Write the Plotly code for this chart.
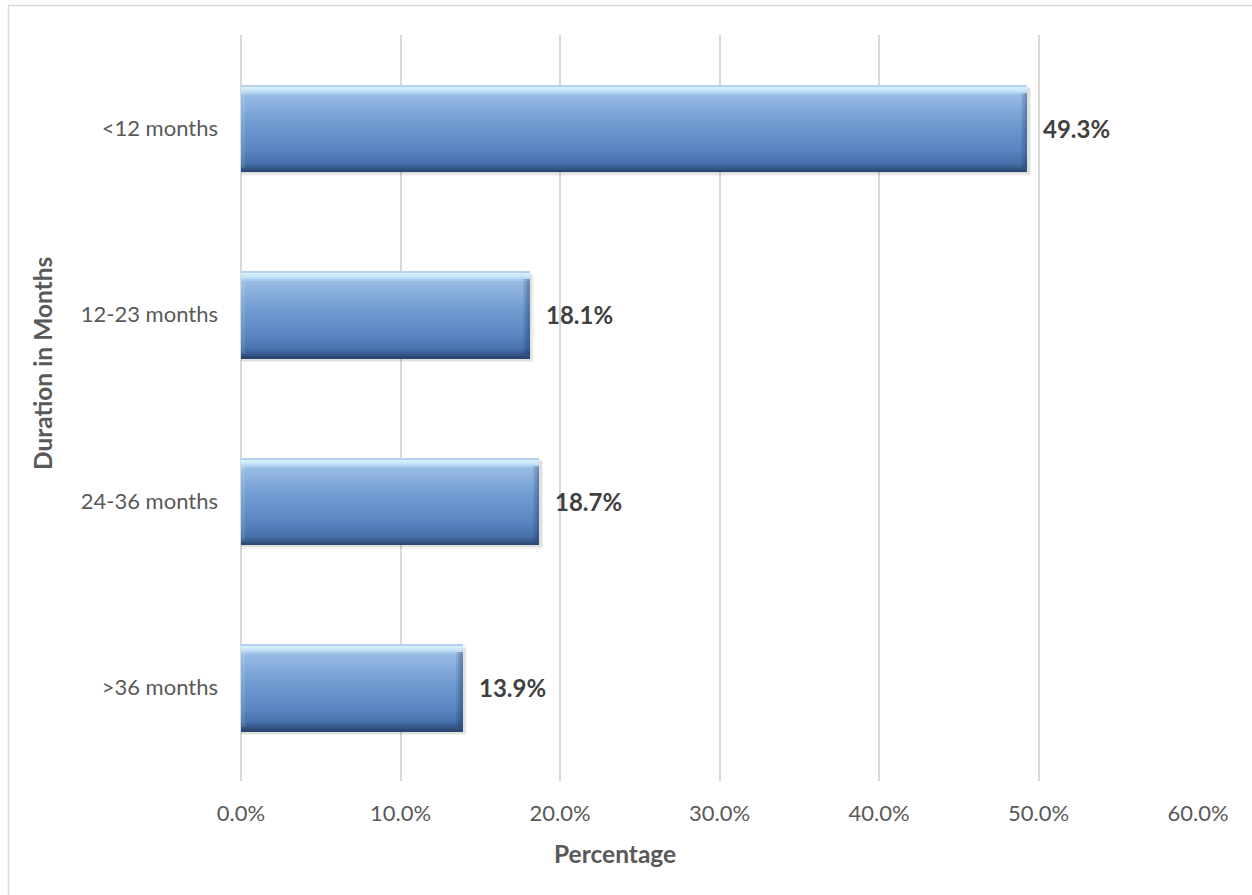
import plotly.graph_objects as go

# Share of cases by duration
categories = ["<12 months", "12-23 months", "24-36 months", ">36 months"]
values = [49.3, 18.1, 18.7, 13.9]
x_ticks = [0, 10, 20, 30, 40, 50, 60]
x_tick_labels = ["0.0%", "10.0%", "20.0%", "30.0%", "40.0%", "50.0%", "60.0%"]

W, H = 1252, 895
ML, MR, MT, MB = 241, 54, 35, 114
PW, PH = W - ML - MR, H - MT - MB

FONT = "Lato, 'Open Sans', sans-serif"
BAR_W = 0.467

# vertical shading profile of the bars (top -> bottom)
profile = [
    (0.00, (160, 192, 228)),
    (0.03, (214, 240, 252)),
    (0.07, (196, 226, 247)),
    (0.12, (150, 187, 227)),
    (0.45, (112, 155, 209)),
    (0.75, (88, 132, 193)),
    (0.90, (70, 113, 170)),
    (0.96, (52, 88, 138)),
    (1.00, (40, 66, 104)),
]


def shade(f):
    for (f0, c0), (f1, c1) in zip(profile[:-1], profile[1:]):
        if f0 <= f <= f1:
            t = 0 if f1 == f0 else (f - f0) / (f1 - f0)
            return "rgb(%d,%d,%d)" % tuple(round(a + (b - a) * t) for a, b in zip(c0, c1))
    return "rgb(%d,%d,%d)" % profile[-1][1]


def px_to_paper_x(px):
    return (px - ML) / PW


def px_to_paper_y(py):
    return (MT + PH - py) / PH


fig = go.Figure()

# soft drop shadow
for k, a in enumerate([0.05, 0.08]):
    fig.add_trace(go.Bar(
        y=categories, x=[v + 0.25 - 0.1 * k for v in values], orientation="h",
        width=BAR_W, offset=-BAR_W / 2 + 0.02 - 0.008 * k,
        marker=dict(color="rgba(0,0,0,%.2f)" % a, line=dict(width=0)),
        hoverinfo="skip", showlegend=False,
    ))

N = 44
step = BAR_W / N
for i in range(N):
    fig.add_trace(go.Bar(
        y=categories, x=values, orientation="h",
        width=step * 1.15, offset=-BAR_W / 2 + i * step,
        marker=dict(color=shade((i + 0.5) / N), line=dict(width=0)),
        hoverinfo="skip", showlegend=False,
    ))

# bevelled right edge
for k, a in enumerate([0.10, 0.12, 0.14]):
    w = 0.42 - 0.13 * k
    fig.add_trace(go.Bar(
        y=categories, x=[w] * len(values), base=[v - w for v in values],
        orientation="h", width=BAR_W * 0.86, offset=-BAR_W * 0.43 + 0.01,
        marker=dict(color="rgba(20,40,80,%.2f)" % a, line=dict(width=0)),
        hoverinfo="skip", showlegend=False,
    ))
# subtle light left edge
fig.add_trace(go.Bar(
    y=categories, x=[0.25] * len(values), base=[0] * len(values),
    orientation="h", width=BAR_W * 0.86, offset=-BAR_W * 0.43 + 0.01,
    marker=dict(color="rgba(255,255,255,0.10)", line=dict(width=0)),
    hoverinfo="skip", showlegend=False,
))

annotations = []
for c, v in zip(categories, values):
    annotations.append(dict(
        x=v, y=c, xref="x", yref="y", text="%.1f%%" % v,
        showarrow=False, xanchor="left", yanchor="middle", xshift=14,
        font=dict(family=FONT, size=24, color="#404040", weight="bold"),
    ))

annotations.append(dict(
    x=px_to_paper_x(43), y=px_to_paper_y(364), xref="paper", yref="paper",
    text="Duration in Months", textangle=-90, showarrow=False,
    xanchor="center", yanchor="middle",
    font=dict(family=FONT, size=24.5, color="#595959", weight="bold"),
))
annotations.append(dict(
    x=px_to_paper_x(615), y=px_to_paper_y(853), xref="paper", yref="paper",
    text="Percentage", showarrow=False,
    xanchor="center", yanchor="middle",
    font=dict(family=FONT, size=24.5, color="#595959", weight="bold"),
))

fig.update_layout(
    width=W, height=H,
    margin=dict(l=ML, r=MR, t=MT, b=MB),
    paper_bgcolor="white", plot_bgcolor="white",
    barmode="overlay", bargap=0,
    showlegend=False,
    annotations=annotations,
    shapes=[dict(
        type="rect", xref="paper", yref="paper",
        x0=px_to_paper_x(8.5), x1=px_to_paper_x(W + 10),
        y0=px_to_paper_y(H + 10), y1=px_to_paper_y(5.5),
        line=dict(color="#d9d9d9", width=1.5), fillcolor="rgba(0,0,0,0)",
        layer="below",
    )],
    xaxis=dict(
        range=[0, 60], tickvals=x_ticks, ticktext=x_tick_labels,
        showgrid=True, gridcolor="#d9d9d9", gridwidth=1.5,
        zeroline=True, zerolinecolor="#d9d9d9", zerolinewidth=1.5,
        showline=False, ticks="", ticklabelstandoff=17,
        tickfont=dict(family=FONT, size=22, color="#595959"),
    ),
    yaxis=dict(
        categoryorder="array", categoryarray=categories,
        autorange="reversed",
        showgrid=False, zeroline=False, showline=False, ticks="",
        ticklabelstandoff=22,
        tickfont=dict(family=FONT, size=22, color="#595959"),
    ),
)

fig.write_html("out.html")
